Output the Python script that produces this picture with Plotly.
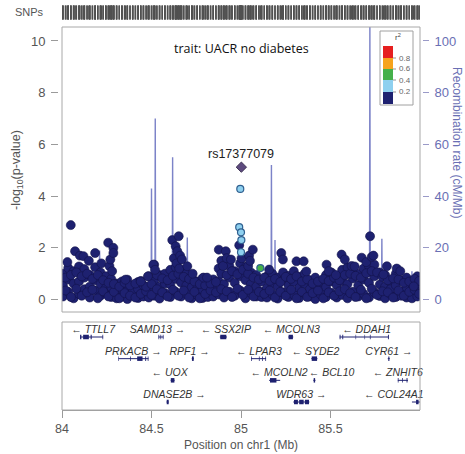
import plotly.graph_objects as go

# ---------------- data ----------------
# dense band of SNPs (r2 < 0.2): position (Mb) and three -log10(p) values each
band_pos = [84.005, 84.035, 84.065, 84.095, 84.125, 84.155, 84.185, 84.215, 84.245,
            84.275, 84.305, 84.335, 84.365, 84.395, 84.425, 84.455, 84.485,
            84.515, 84.545, 84.575, 84.605, 84.635, 84.665, 84.695, 84.725,
            84.755, 84.785, 84.815, 84.845,
            84.875, 84.905, 84.935, 84.965, 84.995, 85.025, 85.055, 85.085,
            85.115, 85.145, 85.175, 85.205, 85.235, 85.265, 85.295,
            85.325, 85.355, 85.385, 85.415, 85.445, 85.475, 85.505, 85.535,
            85.565, 85.595, 85.625, 85.655, 85.685, 85.715, 85.745, 85.775,
            85.805, 85.835, 85.865, 85.895, 85.925, 85.955, 85.985]
band_lo = [0.12, 0.30, 0.05, 0.22, 0.40, 0.08, 0.35, 0.15, 0.25,
           0.10, 0.28, 0.12, 0.02, 0.18, 0.06, 0.20, 0.08,
           0.15, 0.04, 0.25, 0.10, 0.30, 0.12, 0.22, 0.05,
           0.18, 0.06, 0.25, 0.12,
           0.20, 0.08, 0.30, 0.15, 0.35, 0.05, 0.25, 0.12,
           0.30, 0.08, 0.20, 0.04, 0.28, 0.10, 0.18,
           0.06, 0.24, 0.12, 0.02, 0.20, 0.10, 0.26, 0.08,
           0.18, 0.05, 0.30, 0.12, 0.22, 0.08, 0.28, 0.14,
           0.05, 0.22, 0.10, 0.30, 0.08, 0.20, 0.12]
band_mid = [0.55, 0.78, 0.62, 0.70, 0.85, 0.50, 0.75, 0.60, 0.45,
            0.48, 0.62, 0.40, 0.35, 0.52, 0.40, 0.55, 0.45,
            0.70, 0.50, 0.62, 0.58, 0.80, 0.66, 0.55, 0.48,
            0.42, 0.38, 0.55, 0.50,
            0.70, 0.60, 0.85, 0.65, 0.90, 0.75, 0.60, 0.50,
            0.70, 0.45, 0.62, 0.50, 0.75, 0.55, 0.68,
            0.45, 0.60, 0.40, 0.52, 0.65, 0.48, 0.70, 0.55,
            0.72, 0.60, 0.82, 0.55, 0.78, 0.65, 0.90, 0.58,
            0.50, 0.68, 0.55, 0.75, 0.45, 0.62, 0.50]
band_hi = [1.00, 1.22, 1.10, 1.28, 1.18, 0.95, 1.25, 1.05, 0.90,
           0.80, 0.05, 0.70, 0.77, 0.30, 0.68, 0.12, 0.90,
           1.35, 0.95, 1.00, 1.15, 1.25, 1.10, 1.00, 0.85,
           0.70, 0.82, 0.10, 0.78,
           1.20, 1.45, 1.30, 1.10, 1.40, 1.25, 1.05, 0.95,
           0.10, 0.90, 1.00, 0.85, 1.05, 0.92, 1.10,
           0.88, 1.00, 0.75, 0.85, 0.35, 0.95, 1.05, 0.90,
           1.15, 1.25, 1.10, 1.00, 1.20, 1.30, 1.35, 1.05,
           0.95, 0.40, 1.00, 0.15, 0.85, 0.05, 0.90]

# second, offset band of SNPs (r2 < 0.2): two -log10(p) values each
band2_pos = [84.020, 84.050, 84.080, 84.110, 84.140, 84.170, 84.200, 84.230, 84.260,
             84.290, 84.320, 84.350, 84.380, 84.410, 84.440, 84.470, 84.500,
             84.530, 84.560, 84.590, 84.620, 84.650, 84.680, 84.710, 84.740,
             84.770, 84.800, 84.830, 84.860,
             84.890, 84.920, 84.950, 84.980, 85.010, 85.040, 85.070, 85.100,
             85.130, 85.160, 85.190, 85.220, 85.250, 85.280, 85.310,
             85.340, 85.370, 85.400, 85.430, 85.460, 85.490, 85.520, 85.550,
             85.580, 85.610, 85.640, 85.670, 85.700, 85.730, 85.760, 85.790,
             85.820, 85.850, 85.880, 85.910, 85.940, 85.970, 85.995]
band2_a = [0.35, 0.10, 0.42, 0.15, 0.28, 0.38, 0.05, 0.32, 0.12,
           0.30, 0.05, 0.25, 0.15, 0.08, 0.22, 0.32, 0.18,
           0.40, 0.28, 0.12, 0.38, 0.15, 0.35, 0.08, 0.30,
           0.05, 0.22, 0.35, 0.28,
           0.40, 0.32, 0.10, 0.42, 0.18, 0.38, 0.12, 0.30,
           0.22, 0.35, 0.08, 0.30, 0.15, 0.38, 0.05,
           0.30, 0.10, 0.25, 0.35, 0.05, 0.28, 0.15, 0.32,
           0.40, 0.25, 0.10, 0.38, 0.05, 0.42, 0.18, 0.32,
           0.28, 0.08, 0.35, 0.15, 0.30, 0.38, 0.22]
band2_b = [0.85, 0.95, 1.05, 0.90, 1.00, 0.80, 0.95, 0.75, 0.65,
           0.60, 0.50, 0.65, 0.55, 0.62, 0.72, 0.50, 0.60,
           0.95, 0.82, 0.75, 0.92, 1.00, 0.88, 0.80, 0.70,
           0.60, 0.55, 0.62, 0.68,
           1.00, 0.95, 1.10, 0.98, 1.15, 1.00, 0.85, 0.78,
           0.85, 0.72, 0.80, 0.68, 0.88, 0.80, 0.90,
           0.70, 0.78, 0.62, 0.70, 0.80, 0.72, 0.85, 0.75,
           0.95, 1.00, 0.92, 0.85, 1.02, 1.10, 1.05, 0.88,
           0.75, 0.82, 0.78, 0.65, 0.70, 0.80, 0.72]

# scattered higher SNPs (r2 < 0.2)
extra_pos = [84.030, 84.049, 84.073, 84.100, 84.120, 84.150, 84.185, 84.220, 84.258, 84.265,
             84.270, 84.280, 84.287, 84.287, 84.354, 84.440, 84.480, 84.510, 84.520, 84.616,
             84.625, 84.635, 84.640, 84.644, 84.652, 84.655, 84.660, 84.670, 84.700, 84.730,
             84.790, 84.810, 84.876, 84.890, 84.900, 84.915, 84.920, 84.944, 84.990, 85.003,
             85.040, 85.045, 85.050, 85.066, 85.157, 85.225, 85.234, 85.310, 85.350, 85.365,
             85.478, 85.490, 85.530, 85.562, 85.580, 85.618, 85.635, 85.674, 85.700, 85.721,
             85.730, 85.740, 85.796, 85.815, 85.870, 85.890, 85.965]
extra_logp = [1.45, 2.88, 1.87, 1.70, 1.68, 1.50, 1.80, 1.40, 2.20, 1.30,
              1.55, 1.10, 2.00, 1.80, 0.77, 0.70, 0.90, 1.35, 1.15, 2.30,
              1.60, 2.06, 1.40, 1.87, 2.45, 1.20, 1.70, 1.55, 1.29, 1.00,
              0.85, 0.85, 1.93, 1.50, 1.30, 1.87, 1.60, 1.55, 2.10, 1.60,
              1.30, 1.70, 1.50, 1.93, 1.16, 1.80, 1.55, 1.48, 1.48, 1.09,
              1.35, 1.10, 0.95, 1.74, 1.55, 1.30, 1.28, 1.62, 1.45, 2.45,
              1.65, 1.70, 0.97, 1.29, 1.20, 1.10, 0.51]

# SNPs in LD with the lead SNP
ld_pos = [84.996, 84.990, 85.000, 85.002, 85.000, 85.108]
ld_logp = [4.28, 2.80, 2.60, 2.30, 1.83, 1.22]
ld_r2 = [0.35, 0.30, 0.25, 0.30, 0.28, 0.50]

lead_name = "rs17377079"
lead_pos = 85.002
lead_logp = 5.12

# recombination rate (cM/Mb)
recomb_pos = [84.000, 84.050, 84.100, 84.150, 84.205, 84.210, 84.215, 84.300, 84.400,
              84.498, 84.500, 84.502, 84.519, 84.521, 84.523, 84.580, 84.616, 84.618,
              84.620, 84.698, 84.700, 84.702, 84.800, 84.900, 84.960, 85.000, 85.050,
              85.100, 85.168, 85.170, 85.172, 85.188, 85.190, 85.192, 85.300, 85.400,
              85.500, 85.600, 85.718, 85.720, 85.722, 85.785, 85.787, 85.789, 85.900,
              85.953, 85.955, 85.957, 86.000]
recomb_rate = [1.0, 2.0, 1.5, 2.0, 1.0, 19.0, 1.0, 2.0, 1.5,
               1.0, 43.0, 1.0, 1.0, 70.0, 1.0, 2.0, 1.0, 55.0,
               1.0, 1.0, 24.0, 1.0, 2.0, 1.0, 2.0, 1.0, 2.0,
               1.0, 1.0, 52.0, 1.0, 1.0, 23.0, 1.0, 2.0, 1.0,
               2.0, 1.0, 1.0, 108.0, 1.0, 1.0, 23.5, 1.0, 1.5,
               1.0, 11.0, 1.0, 2.0]

# genes
gene_names = ["TTLL7", "SAMD13", "SSX2IP", "MCOLN3", "DDAH1",
              "PRKACB", "RPF1", "LPAR3", "SYDE2", "CYR61",
              "UOX", "MCOLN2", "BCL10", "ZNHIT6",
              "DNASE2B", "WDR63", "COL24A1"]
gene_start = [84.101, 84.539, 84.882, 85.264, 85.551,
              84.315, 84.725, 85.056, 85.393, 85.820,
              84.607, 85.157, 85.404, 85.876,
              84.584, 85.292, 85.955]
gene_end = [84.230, 84.567, 84.921, 85.292, 85.826,
            84.483, 84.736, 85.140, 85.427, 85.831,
            84.629, 85.219, 85.416, 85.933,
            84.596, 85.382, 86.000]
gene_strand = ["-", "+", "-", "-", "-",
               "+", "+", "-", "-", "+",
               "-", "-", "-", "-",
               "+", "+", "-"]
gene_row = [1, 1, 1, 1, 1, 2, 2, 2, 2, 2, 3, 3, 3, 3, 4, 4, 4]
gene_label_pos = [84.174, 84.534, 84.916, 85.281, 85.702,
                  84.399, 84.713, 85.100, 85.416, 85.826,
                  84.601, 85.213, 85.506, 85.876,
                  84.629, 85.337, 85.854]
gene_exons = [
    [(84.101, 84.108), (84.118, 84.150), (84.160, 84.166), (84.226, 84.230)],
    [(84.539, 84.543), (84.550, 84.554), (84.563, 84.567)],
    [(84.884, 84.918)],
    [(85.266, 85.290)],
    [(85.551, 85.556), (85.566, 85.571), (85.640, 85.643), (85.690, 85.693), (85.720, 85.724), (85.821, 85.826)],
    [(84.315, 84.318), (84.380, 84.384), (84.420, 84.450), (84.465, 84.470), (84.479, 84.483)],
    [(84.726, 84.736)],
    [(85.056, 85.060), (85.100, 85.104), (85.118, 85.122), (85.136, 85.140)],
    [(85.395, 85.425)],
    [(85.823, 85.829)],
    [(84.608, 84.628)],
    [(85.162, 85.198)],
    [(85.406, 85.414)],
    [(85.876, 85.880), (85.900, 85.904), (85.925, 85.930)],
    [(84.585, 84.596)],
    [(85.296, 85.318), (85.325, 85.350), (85.357, 85.380)],
    [(85.978, 85.992)],
]

y_ticks = [0, 2, 4, 6, 8, 10]
recomb_ticks = [0, 20, 40, 60, 80, 100]
x_ticks = [84, 84.5, 85, 85.5]
x_ticktext = ["84", "84.5", "85", "85.5"]
ld_bins = [0.2, 0.4, 0.6, 0.8]
ld_colors = ["#1e2170", "#8ed0ef", "#46b04a", "#f6a31c", "#e61f1f"]
ld_labels = ["0.2", "0.4", "0.6", "0.8"]

# ---------------- layout helpers ----------------
W, H = 465, 454
ML, MR, MT, MB = 40, 30, 5, 44
PW, PH = W - ML - MR, H - MT - MB


def fx(px):
    return (px - ML) / PW


def fy(py):
    return (H - MB - py) / PH


def ld_color(r2):
    i = 0
    for b in ld_bins:
        if r2 >= b:
            i += 1
    return ld_colors[i]


NAVY = ld_colors[0]
GRAY = "#555555"
BLUE = "#6a6fb4"

fig = go.Figure()

# recombination line (base axis y, right side)
fig.add_trace(go.Scatter(x=recomb_pos, y=recomb_rate, mode="lines",
                         line=dict(color="#7c83c8", width=1.4),
                         xaxis="x", yaxis="y", hoverinfo="skip"))

# navy SNPs
nav_x, nav_y = [], []
for p, a, b, c in zip(band_pos, band_lo, band_mid, band_hi):
    nav_x += [p, p, p]
    nav_y += [a, b, c]
for p, a, b in zip(band2_pos, band2_a, band2_b):
    nav_x += [p, p]
    nav_y += [a, b]
nav_x += extra_pos
nav_y += extra_logp
fig.add_trace(go.Scatter(x=nav_x, y=nav_y, mode="markers",
                         marker=dict(size=9, color=NAVY, line=dict(color="#12134a", width=0.6)),
                         xaxis="x", yaxis="y2", hoverinfo="skip"))

# LD-coloured SNPs
fig.add_trace(go.Scatter(x=ld_pos, y=ld_logp, mode="markers",
                         marker=dict(size=7, color=[ld_color(r) for r in ld_r2],
                                     line=dict(color="#2f5f8f", width=1.2)),
                         xaxis="x", yaxis="y2", hoverinfo="skip"))

# lead SNP
fig.add_trace(go.Scatter(x=[lead_pos], y=[lead_logp], mode="markers",
                         marker=dict(size=8, symbol="diamond", color="#5d4a7e",
                                     line=dict(color="#2a2040", width=0.8)),
                         xaxis="x", yaxis="y2", hoverinfo="skip"))

# SNP rug
rug_x = list(nav_x) + list(ld_pos) + [lead_pos]
fig.add_trace(go.Scatter(x=rug_x, y=[0.5] * len(rug_x), mode="markers",
                         marker=dict(symbol="line-ns", size=10,
                                     line=dict(color="#505050", width=1.5)),
                         xaxis="x", yaxis="y4", hoverinfo="skip", cliponaxis=False))

# genes
body_x, body_y, ex_x, ex_y = [], [], [], []
for s, e, r, exs in zip(gene_start, gene_end, gene_row, gene_exons):
    body_x += [s, e, None]
    body_y += [r, r, None]
    for a, b in exs:
        ex_x += [a, b, None]
        ex_y += [r, r, None]
fig.add_trace(go.Scatter(x=body_x, y=body_y, mode="lines",
                         line=dict(color=NAVY, width=1), xaxis="x", yaxis="y3",
                         hoverinfo="skip"))
fig.add_trace(go.Scatter(x=ex_x, y=ex_y, mode="lines",
                         line=dict(color=NAVY, width=4.5), xaxis="x", yaxis="y3",
                         hoverinfo="skip"))
labels = [("\u2190 " + n) if st == "-" else (n + " \u2192")
          for n, st in zip(gene_names, gene_strand)]
fig.add_trace(go.Scatter(x=gene_label_pos, y=[r - 0.3 for r in gene_row], mode="text",
                         text=labels,
                         textfont=dict(family="Liberation Sans", size=10.5, color="#333333",
                                       style="italic"),
                         xaxis="x", yaxis="y3", hoverinfo="skip", cliponaxis=False))

main_dom = [fy(312), fy(27)]
fig.update_layout(
    width=W, height=H, margin=dict(l=ML, r=MR, t=MT, b=MB),
    paper_bgcolor="white", plot_bgcolor="white", showlegend=False,
    font=dict(family="Liberation Sans", color=GRAY),
    xaxis=dict(domain=[fx(62), fx(420)], range=[84, 86], anchor="y3",
               showline=True, linecolor="#9a9a9a", linewidth=1, mirror=False,
               ticks="outside", ticklen=7, tickcolor="#9a9a9a",
               tickvals=x_ticks, ticktext=x_ticktext, ticklabelstandoff=0,
               tickfont=dict(size=12.5, color=GRAY), showgrid=False, zeroline=False),
    yaxis=dict(domain=main_dom, range=[-4.8, 105.4], side="right", anchor="free",
               position=fx(422), showline=False, ticks="outside", ticklen=6,
               tickcolor="#9a9ac8", tickvals=recomb_ticks, ticklabelstandoff=3,
               tickfont=dict(size=13, color=BLUE), showgrid=False, zeroline=False),
    yaxis2=dict(overlaying="y", range=[-0.48, 10.54], side="left", anchor="free",
                position=fx(58), showline=False, ticks="outside", ticklen=7,
                tickcolor="#9a9a9a", tickvals=y_ticks, ticklabelstandoff=3,
                tickfont=dict(size=13, color=GRAY), showgrid=False, zeroline=False),
    yaxis3=dict(domain=[0, fy(322)], range=[4.369, 0.308], visible=False),
    yaxis4=dict(domain=[fy(17), fy(8)], range=[0, 1], visible=False),
)

shapes = [
    dict(type="rect", xref="x domain", yref="y domain", x0=0, x1=1, y0=0, y1=1,
         line=dict(color="#a8a8a8", width=1)),
    dict(type="rect", xref="x domain", yref="y3 domain", x0=0, x1=1, y0=0, y1=1,
         line=dict(color="#a8a8a8", width=1)),
    # r2 legend box
    dict(type="rect", xref="paper", yref="paper", x0=fx(380), x1=fx(413),
         y0=fy(105), y1=fy(31), line=dict(color="#a0a0a0", width=1), fillcolor="white"),
]
# legend colour blocks (bottom navy to top red)
edges = [104, 92, 80, 69, 58, 46]
for i, c in enumerate(ld_colors):
    shapes.append(dict(type="rect", xref="paper", yref="paper", x0=fx(383), x1=fx(393),
                       y0=fy(edges[i]), y1=fy(edges[i + 1]), line=dict(width=0), fillcolor=c))
for i in range(4):
    shapes.append(dict(type="line", xref="paper", yref="paper", x0=fx(393), x1=fx(396),
                       y0=fy(edges[i + 1]), y1=fy(edges[i + 1]),
                       line=dict(color="#777777", width=0.8)))
fig.update_layout(shapes=shapes)


def txt(text, px, py, size, color, family="Liberation Sans", angle=0, xanchor="center"):
    return dict(text=text, x=fx(px), y=fy(py), xref="paper", yref="paper",
                xanchor=xanchor, yanchor="middle", textangle=angle, showarrow=False,
                font=dict(family=family, size=size, color=color))


ann = [
    txt("SNPs", 29, 12, 11, GRAY),
    txt("trait: UACR no diabetes", 242, 49, 12.5, "#111111", family="Open Sans"),
    dict(text=lead_name, x=lead_pos, y=lead_logp, xref="x", yref="y2", yshift=13,
         xanchor="center", yanchor="middle", showarrow=False,
         font=dict(family="Liberation Sans", size=12.5, color="#222222")),
    txt("-log<sub>10</sub>(p-value)", 17, 170, 12.5, GRAY, angle=-90),
    txt("Recombination rate (cM/Mb)", 457, 142, 12, BLUE, angle=90),
    txt("Position on chr1 (Mb)", 241, 445, 12, GRAY),
    txt("r<sup>2</sup>", 398, 37, 8, "#444444"),
]
for i, lab in enumerate(ld_labels):
    ann.append(txt(lab, 397, edges[i + 1], 8, "#666666", xanchor="left"))
fig.update_layout(annotations=ann)

fig.write_html("out.html")
